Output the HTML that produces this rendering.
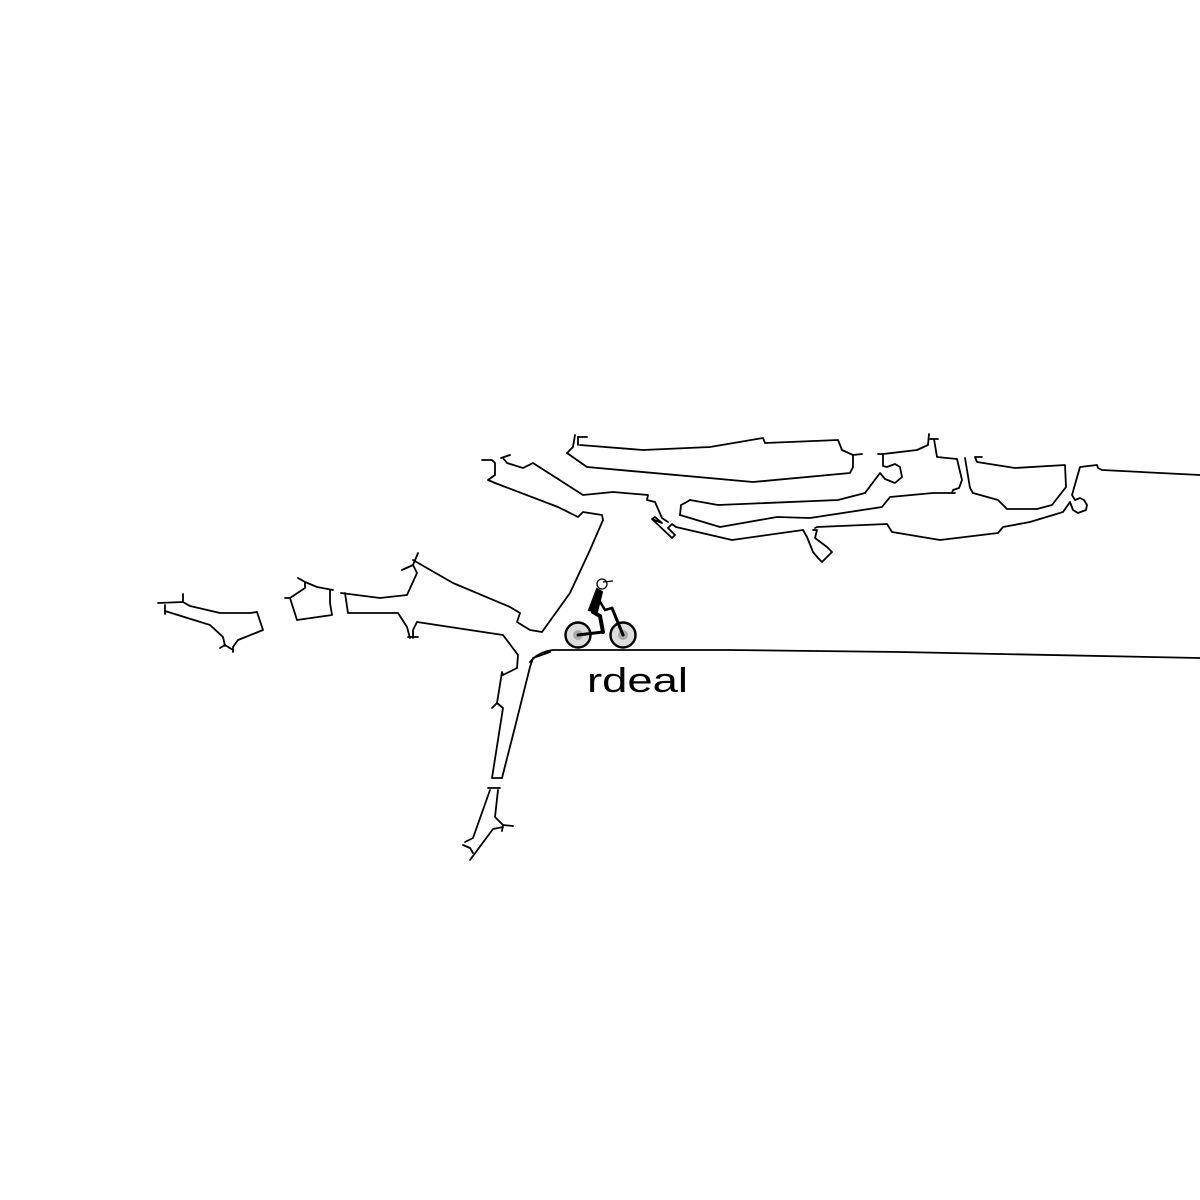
<!DOCTYPE html>
<html><head><meta charset="utf-8"><style>html,body{margin:0;padding:0;background:#fff}svg{display:block}</style></head>
<body>
<svg width="1200" height="1200" viewBox="0 0 1200 1200" xmlns="http://www.w3.org/2000/svg">
<g fill="none" stroke="#000" stroke-width="1.8" stroke-linejoin="round" stroke-linecap="round">
<polyline points="158,603 183,602 190,606 220,613 250,613 257,612"/>
<line x1="183" y1="594" x2="183" y2="602"/>
<polyline points="257,612 263,630 238,640 233,647 233,652"/>
<polyline points="220,648 225,645 233,650"/>
<polyline points="165,611 210,625 223,637 225,646"/>
<line x1="165" y1="605" x2="165" y2="614"/>
<polyline points="298,578 305,582 317,587 333,590"/>
<polyline points="305,582 305,588 290,598 285,598"/>
<polyline points="290,598 297,620 332,615 330,603 330,590"/>
<polyline points="341,593 380,598 407,595 417,573 413,565 402,570"/>
<line x1="413" y1="565" x2="418" y2="553"/>
<polyline points="413,560 453,583 510,607 520,613 517,622 530,630 542,632 570,593 590,550 603,520 602,515 583,512 578,517 558,507 495,483 488,480 495,475 495,463 492,460 482,460"/>
<polyline points="345,593 348,613 398,613 407,627 410,638"/>
<line x1="408" y1="637" x2="418" y2="637"/>
<polyline points="417,622 413,630 413,638"/>
<polyline points="417,622 483,632 503,635 518,655 517,668 503,675 502,672 497,703 492,708"/>
<polyline points="497,703 503,708 492,778 502,778"/>
<polyline points="550,652 533,658 530,667 515,727 502,778"/>
<path d="M530,662 Q538,652 553,650 L730,650 L900,652 L1200,658"/>
<line x1="488" y1="788" x2="500" y2="788"/>
<polyline points="490,790 473,838 465,842"/>
<polyline points="498,790 495,817 503,825 513,826"/>
<line x1="503" y1="825" x2="502" y2="831"/>
<polyline points="503,827 493,829 470,860"/>
<polyline points="463,845 470,848 473,853"/>
<polyline points="503,458 507,463 523,468 533,463 583,495 613,492 648,495 647,500 655,502 662,518 668,522"/>
<line x1="501" y1="458" x2="510" y2="455"/>
<polyline points="652,519 655,517 662,523 652,519 672,538 675,535 668,528 672,524 676,527 732,540 803,530 807,537 813,552 818,558 822,562 832,552 827,547 815,538 817,530 813,530"/>
<polyline points="567,453 587,467 753,482 850,473 853,467 853,455 862,454"/>
<polyline points="580,445 643,450 710,447 763,438 765,443 838,440 842,450 853,455"/>
<polyline points="575,435 573,447 567,453"/>
<polyline points="578,437 578,445"/>
<line x1="578" y1="437" x2="587" y2="437"/>
<polyline points="690,500 718,505 838,500 865,493 880,473 885,479 895,483 902,477 900,467 895,464 887,467 883,466 883,454 878,454"/>
<polyline points="685,503 690,500"/>
<polyline points="883,454 917,450 928,445 929,434"/>
<line x1="930" y1="439" x2="938" y2="439"/>
<polyline points="934,439 937,457 957,459 962,480 959,488 953,490 952,493"/>
<polyline points="680,515 681,505 685,503"/>
<polyline points="680,515 720,527 777,517 810,518 882,507 890,497 933,493 955,493"/>
<polyline points="815,528 817,527 887,524 892,532 940,540 998,533 1003,527 1030,522 1063,512 1070,502 1073,510 1078,513 1086,510 1087,505 1084,500 1080,498 1075,500 1072,495 1080,467 1097,465 1098,468 1102,470 1200,475"/>
<polyline points="965,458 970,488 973,493 998,500 1007,509 1037,509 1052,505 1066,487 1065,465 1015,468 977,462 975,457 982,457"/>
</g>
<g stroke="#000" stroke-width="2.4">
<circle cx="578" cy="635" r="12.5" fill="#ddd"/>
<circle cx="623" cy="635" r="12.5" fill="#ddd"/>
</g>
<circle cx="578" cy="635" r="5" fill="#aaa"/>
<circle cx="623" cy="635" r="5" fill="#aaa"/>
<g stroke="#000" stroke-width="3" fill="none" stroke-linecap="round">
<line x1="578" y1="635" x2="603" y2="632"/>
<line x1="623" y1="635" x2="612" y2="608"/>
<polygon points="597,589 602,592 597,612 589,610" fill="#000" stroke-width="2"/>
<polyline points="593,612 600,616 603,632" stroke-width="4"/>
<polyline points="599,600 605,610 612,608" stroke-width="2.5"/>
</g>
<circle cx="602" cy="584" r="5" fill="#fff" stroke="#000" stroke-width="1.3"/>
<line x1="603" y1="582" x2="613" y2="581" stroke="#000" stroke-width="1.3"/>
<text x="587" y="692" font-family="Liberation Sans, sans-serif" font-size="34" textLength="101" lengthAdjust="spacingAndGlyphs" fill="#000">rdeal</text>
</svg>
</body></html>
